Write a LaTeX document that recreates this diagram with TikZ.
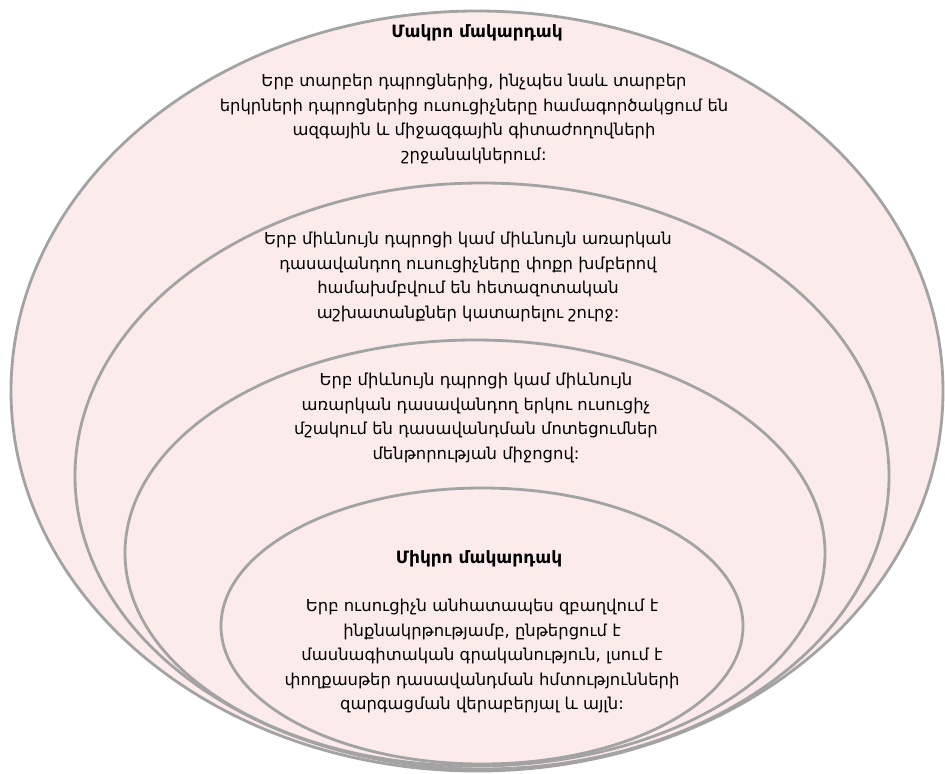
\documentclass[tikz,border=0pt]{standalone}
\usepackage{fontspec}
\setmainfont{DejaVu Sans}
\definecolor{nenhong}{RGB}{252,235,235}
\definecolor{vien}{RGB}{163,163,163}
\begin{document}
\begin{tikzpicture}[x=0.03cm, y=-0.03cm, line join=round, line cap=round,
		vong/.style={fill=nenhong, draw=vien, line width=2.4pt},
		chu/.style={align=center, inner sep=0pt, font=\fontsize{14}{20.9}\selectfont},
		tieude/.style={chu, font=\fontsize{14.5}{20.9}\selectfont\bfseries}]
				\useasboundingbox (0,0) rectangle (945,773);
				%% Khai bao tam cac elip
				\path 
				(477,391) coordinate (O1)
				(482,476) coordinate (O2)
				(475,553) coordinate (O3)
				(482,626) coordinate (O4)
				;
				%% ve cac elip
				\foreach \o/\a/\b in {O1/466/380,O2/407/293,O3/350/213,O4/261/138}
				\draw[vong] (\o) ellipse [x radius=\a, y radius=\b];
				%% chu
				\node[tieude] (macro) at (477,33) {Մակրո մակարդակ};
				\node[chu] (mac) at (474,119) {Երբ տարբեր դպրոցներից, ինչպես նաև տարբեր\\
					երկրների դպրոցներից ուսուցիչները համագործակցում են\\
					ազգային և միջազգային գիտաժողովների\\
					շրջանակներում:};
				\node[chu] (meso) at (468,277) {Երբ միևնույն դպրոցի կամ միևնույն առարկան\\
					դասավանդող ուսուցիչները փոքր խմբերով\\
					համախմբվում են հետազոտական\\
					աշխատանքներ կատարելու շուրջ:};
				\node[chu] (zuyg) at (476,418) {Երբ միևնույն դպրոցի կամ միևնույն\\
					առարկան դասավանդող երկու ուսուցիչ\\
					մշակում են դասավանդման մոտեցումներ\\
					մենթորության միջոցով:};
				\node[tieude] (micro) at (479,559) {Միկրո մակարդակ};
				\node[chu] (mic) at (482,656) {Երբ ուսուցիչն անհատապես զբաղվում է\\
					ինքնակրթությամբ, ընթերցում է\\
					մասնագիտական գրականություն, լսում է\\
					փողքասթեր դասավանդման հմտությունների\\
					զարգացման վերաբերյալ և այլն:};
		\end{tikzpicture}
\end{document}
